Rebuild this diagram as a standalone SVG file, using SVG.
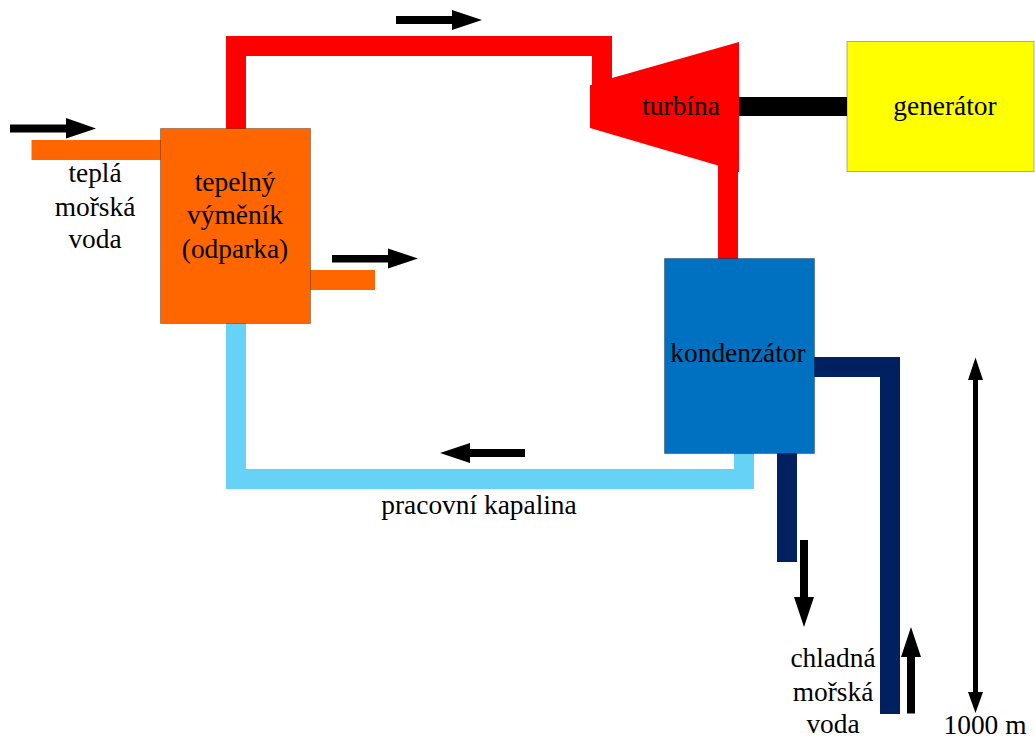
<svg xmlns="http://www.w3.org/2000/svg" width="1035" height="740" viewBox="0 0 1035 740">
<style>
text{font-family:"Liberation Serif","Times New Roman",serif;font-size:27.4px;fill:#000;text-anchor:middle}
.box{stroke:#000;stroke-opacity:.3;stroke-width:1}
.ar{fill:#000}
</style>
<rect width="1035" height="740" fill="#fff"/>
<g id="connectors">
<path id="pipe-hot-in" d="M31.500 140H161V160H31.500Z" fill="#ff6600"/>
<path id="pipe-hot-out" d="M310 270H375V290H310Z" fill="#ff6600"/>
<path id="pipe-steam-1" d="M226 129V36H612V85H592V56H246V129Z" fill="#ff0000"/>
<path id="pipe-steam-2" d="M718 160H738V259H718Z" fill="#ff0000"/>
<path id="shaft" d="M739 97H847V116H739Z" fill="#000"/>
<path id="pipe-liquid" d="M226 323H246V469H734V453H754V489H226Z" fill="#66d2f5"/>
<path id="pipe-cold-out" d="M777 453H797V562H777Z" fill="#002060"/>
<path id="pipe-cold-in" d="M814 357H900V714H880V377H814Z" fill="#002060"/>
<path class="ar" d="M10 124.500H66V118L96 128.500L66 138.500V132.500H10Z"/>
<path class="ar" d="M396 16H452V10L482 20L452 30V24H396Z"/>
<path class="ar" d="M332 255H388V248.500L418 258.500L388 268.500V262.500H332Z"/>
<path class="ar" d="M525 449H470V443L440 453L470 463V457H525Z"/>
<path class="ar" d="M800 540H808V597H814L804 627L794 597H800Z"/>
<path class="ar" d="M907 713.500V657H901L911 627L921 657H915V713.500Z"/>
<path class="ar" d="M973 380H968L975.500 357.500L983 380H978V692H983L975.500 713L968 692H973Z"/>
</g>
<g id="turbine"><path d="M590 85H612V78L739 42V172H718V165.500L590 128Z" fill="#ff0000"/><text x="681" y="115">turbína</text></g>
<g id="generator"><rect class="box" x="847" y="41.500" width="187" height="130" fill="#ffff00"/><text x="945" y="115">generátor</text></g>
<g id="exchanger"><rect class="box" x="160.500" y="128.500" width="150" height="195" fill="#ff6600"/><text x="235" y="191">tepelný</text><text x="235" y="224">výměník</text><text x="235" y="258">(odparka)</text></g>
<g id="condenser"><rect class="box" x="664.500" y="258.500" width="150" height="195" fill="#0070c0"/><text x="738" y="362">kondenzátor</text></g>
<g id="labels">
<text x="95" y="182">teplá</text><text x="95" y="216">mořská</text><text x="95" y="248">voda</text>
<text x="479" y="514">pracovní kapalina</text>
<text x="833" y="667">chladná</text><text x="833" y="701">mořská</text><text x="833" y="733">voda</text>
<text x="985" y="733.500">1000 m</text>
</g>
</svg>
